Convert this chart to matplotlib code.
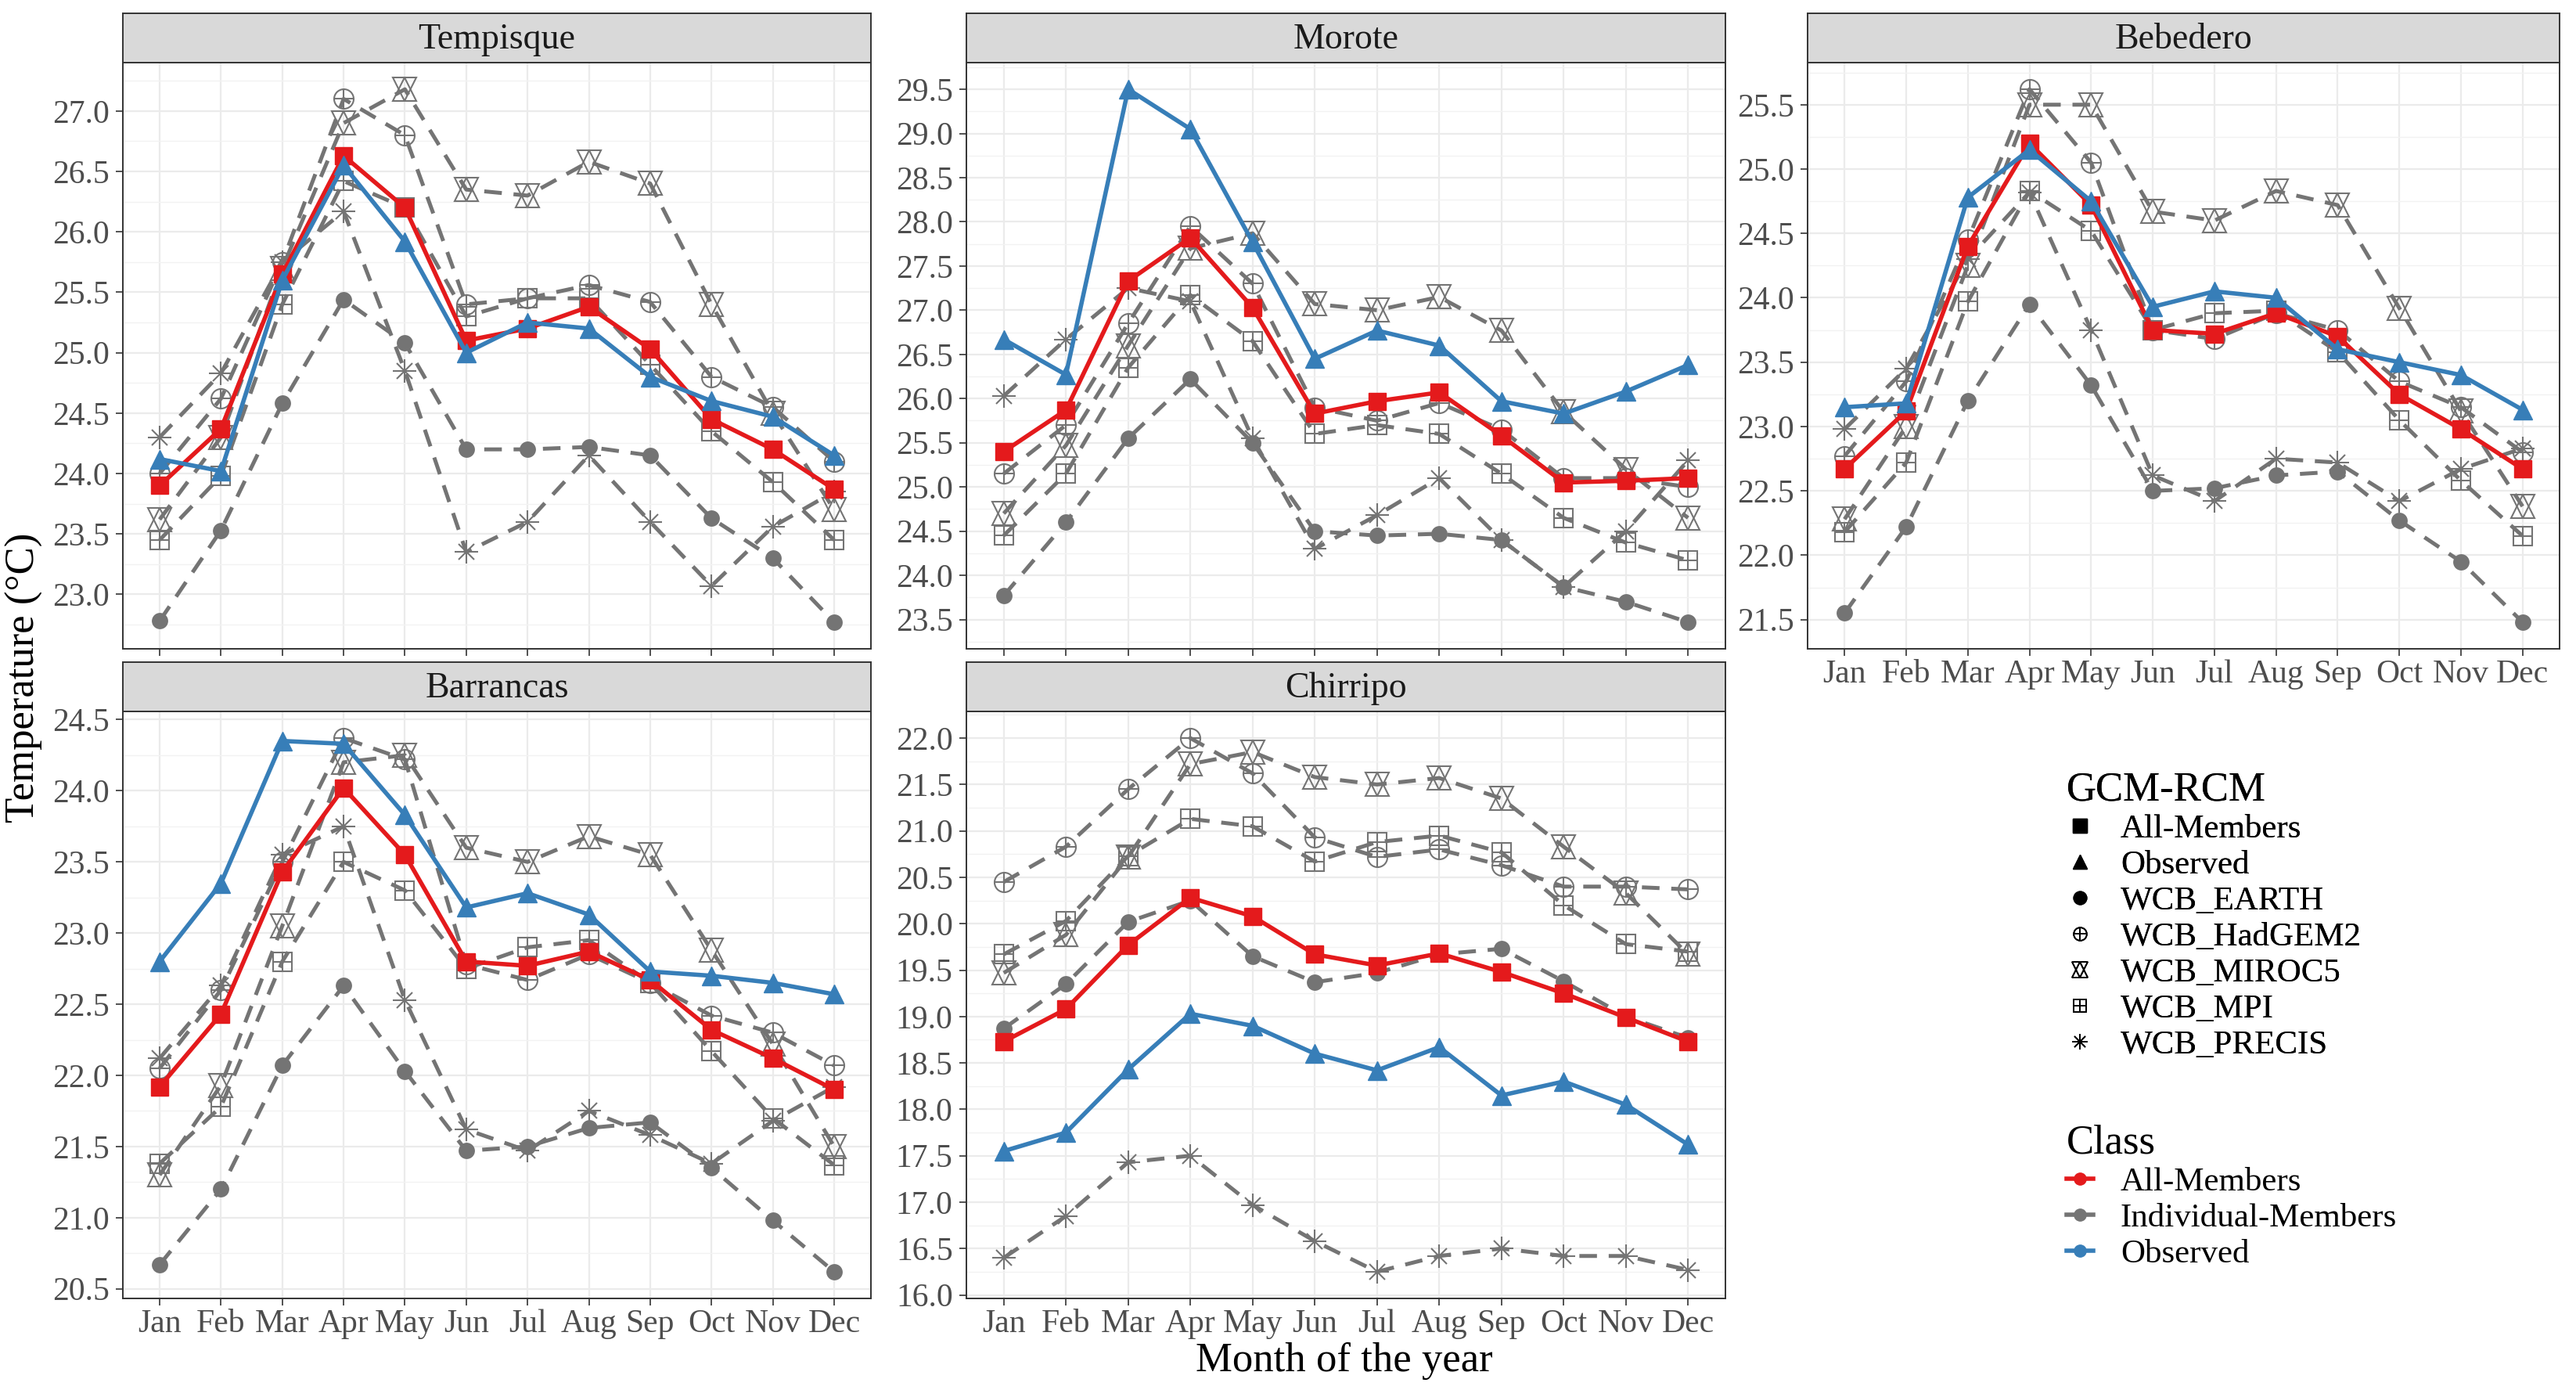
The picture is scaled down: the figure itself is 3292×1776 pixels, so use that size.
import numpy as np
import matplotlib
matplotlib.use("Agg")
import matplotlib.pyplot as plt
from matplotlib.ticker import MultipleLocator, FormatStrFormatter
from matplotlib.lines import Line2D

plt.rcParams['font.family'] = ['Liberation Serif', 'DejaVu Serif']

months = ["Jan", "Feb", "Mar", "Apr", "May", "Jun", "Jul", "Aug", "Sep", "Oct", "Nov", "Dec"]
stations = ["Tempisque", "Morote", "Bebedero", "Barrancas", "Chirripo"]
members = ["WCB_EARTH", "WCB_HadGEM2", "WCB_MIROC5", "WCB_MPI", "WCB_PRECIS"]

# Tempisque
tem_all = [23.90, 24.37, 25.65, 26.63, 26.20, 25.10, 25.20, 25.38, 25.03, 24.45, 24.20, 23.87]
tem_obs = [24.12, 24.02, 25.60, 26.55, 25.92, 25.00, 25.25, 25.20, 24.80, 24.60, 24.47, 24.15]
tem_earth = [22.78, 23.53, 24.58, 25.44, 25.08, 24.20, 24.20, 24.22, 24.15, 23.63, 23.30, 22.77]
tem_hadgem2 = [24.00, 24.62, 25.75, 27.10, 26.80, 25.40, 25.45, 25.56, 25.42, 24.80, 24.55, 24.10]
tem_miroc5 = [23.62, 24.30, 25.70, 26.90, 27.18, 26.35, 26.30, 26.58, 26.40, 25.40, 24.50, 23.70]
tem_mpi = [23.45, 23.98, 25.40, 26.42, 26.20, 25.30, 25.45, 25.45, 24.90, 24.35, 23.93, 23.45]
tem_precis = [24.30, 24.83, 25.75, 26.17, 24.85, 23.35, 23.60, 24.15, 23.60, 23.07, 23.56, 23.85]

# Morote
mor_all = [25.40, 25.87, 27.33, 27.82, 27.03, 25.83, 25.97, 26.07, 25.58, 25.05, 25.07, 25.10]
mor_obs = [26.67, 26.27, 29.50, 29.05, 27.77, 26.45, 26.77, 26.60, 25.97, 25.83, 26.08, 26.38]
mor_earth = [23.77, 24.60, 25.55, 26.22, 25.50, 24.50, 24.45, 24.47, 24.40, 23.87, 23.70, 23.47]
mor_hadgem2 = [25.15, 25.70, 26.85, 27.95, 27.30, 25.90, 25.75, 25.95, 25.65, 25.10, 25.10, 25.00]
mor_miroc5 = [24.70, 25.47, 26.60, 27.70, 27.87, 27.07, 27.00, 27.15, 26.77, 25.85, 25.20, 24.65]
mor_mpi = [24.45, 25.15, 26.35, 27.17, 26.65, 25.60, 25.70, 25.60, 25.15, 24.65, 24.37, 24.17]
mor_precis = [26.03, 26.67, 27.25, 27.10, 25.55, 24.30, 24.68, 25.10, 24.40, 23.87, 24.50, 25.30]

# Bebedero
beb_all = [22.67, 23.12, 24.40, 25.20, 24.72, 23.75, 23.72, 23.88, 23.70, 23.25, 22.98, 22.67]
beb_obs = [23.15, 23.18, 24.78, 25.15, 24.75, 23.93, 24.05, 24.00, 23.60, 23.50, 23.40, 23.13]
beb_earth = [21.55, 22.22, 23.20, 23.95, 23.32, 22.50, 22.52, 22.62, 22.65, 22.27, 21.95, 21.48]
beb_hadgem2 = [22.77, 23.35, 24.45, 25.62, 25.05, 23.75, 23.68, 23.88, 23.75, 23.35, 23.15, 22.80]
beb_miroc5 = [22.28, 23.00, 24.25, 25.50, 25.50, 24.67, 24.60, 24.83, 24.72, 23.92, 23.12, 22.38]
beb_mpi = [22.18, 22.72, 23.97, 24.83, 24.52, 23.75, 23.88, 23.90, 23.58, 23.05, 22.58, 22.15]
beb_precis = [22.98, 23.45, 24.30, 24.82, 23.75, 22.62, 22.42, 22.75, 22.72, 22.42, 22.67, 22.83]

# Barrancas
bar_all = [21.92, 22.43, 23.43, 24.02, 23.55, 22.80, 22.77, 22.87, 22.67, 22.32, 22.12, 21.90]
bar_obs = [22.80, 23.35, 24.35, 24.33, 23.83, 23.18, 23.28, 23.13, 22.73, 22.70, 22.65, 22.57]
bar_earth = [20.67, 21.20, 22.07, 22.63, 22.03, 21.47, 21.50, 21.63, 21.67, 21.35, 20.98, 20.62]
bar_hadgem2 = [22.05, 22.60, 23.50, 24.37, 24.22, 22.78, 22.67, 22.85, 22.65, 22.42, 22.30, 22.07]
bar_miroc5 = [21.30, 21.93, 23.05, 24.20, 24.25, 23.60, 23.50, 23.68, 23.55, 22.88, 22.22, 21.50]
bar_mpi = [21.38, 21.78, 22.80, 23.50, 23.30, 22.75, 22.90, 22.95, 22.65, 22.17, 21.70, 21.37]
bar_precis = [22.12, 22.63, 23.55, 23.75, 22.53, 21.62, 21.47, 21.75, 21.58, 21.38, 21.68, 21.92]

# Chirripo
chi_all = [18.73, 19.08, 19.77, 20.28, 20.08, 19.67, 19.55, 19.68, 19.48, 19.25, 18.99, 18.73]
chi_obs = [17.55, 17.75, 18.43, 19.03, 18.90, 18.60, 18.42, 18.67, 18.15, 18.30, 18.05, 17.62]
chi_earth = [18.87, 19.35, 20.02, 20.25, 19.65, 19.37, 19.47, 19.67, 19.73, 19.38, 19.00, 18.77]
chi_hadgem2 = [20.45, 20.83, 21.45, 22.00, 21.62, 20.93, 20.72, 20.80, 20.63, 20.40, 20.40, 20.37]
chi_miroc5 = [19.47, 19.88, 20.72, 21.72, 21.85, 21.58, 21.50, 21.57, 21.35, 20.83, 20.33, 19.67]
chi_mpi = [19.67, 20.03, 20.73, 21.13, 21.05, 20.67, 20.88, 20.95, 20.77, 20.20, 19.78, 19.70]
chi_precis = [16.40, 16.85, 17.43, 17.50, 16.97, 16.58, 16.25, 16.42, 16.50, 16.42, 16.42, 16.27]

data = {
    "Tempisque": (tem_all, tem_obs, [tem_earth, tem_hadgem2, tem_miroc5, tem_mpi, tem_precis]),
    "Morote": (mor_all, mor_obs, [mor_earth, mor_hadgem2, mor_miroc5, mor_mpi, mor_precis]),
    "Bebedero": (beb_all, beb_obs, [beb_earth, beb_hadgem2, beb_miroc5, beb_mpi, beb_precis]),
    "Barrancas": (bar_all, bar_obs, [bar_earth, bar_hadgem2, bar_miroc5, bar_mpi, bar_precis]),
    "Chirripo": (chi_all, chi_obs, [chi_earth, chi_hadgem2, chi_miroc5, chi_mpi, chi_precis]),
}

RED = "#E41A1C"
BLUE = "#377EB8"
GRAY = "#747474"

W, H = 3292, 1776
# panel boxes in pixels: left, right, top, bottom
boxes = {
    "Tempisque": (157, 1113, 80, 829),
    "Morote": (1235, 2205, 80, 829),
    "Bebedero": (2310, 3271, 80, 829),
    "Barrancas": (157, 1113, 909, 1659),
    "Chirripo": (1235, 2205, 909, 1659),
}
strip_h = 63
show_x = {"Bebedero", "Barrancas", "Chirripo"}

# composite marker layers (ggplot shapes 16, 10, 11, 12, 8)
marker_layers = {
    "WCB_EARTH": [dict(marker="o", ms=15, mfc="C", mew=0)],
    "WCB_HadGEM2": [dict(marker="o", ms=18, mfc="none", mew=1.5), dict(marker="+", ms=18, mfc="none", mew=1.5)],
    "WCB_MIROC5": [dict(marker="^", ms=21, mfc="none", mew=1.5), dict(marker="v", ms=21, mfc="none", mew=1.5)],
    "WCB_MPI": [dict(marker="s", ms=17, mfc="none", mew=1.5), dict(marker="+", ms=17, mfc="none", mew=1.5)],
    "WCB_PRECIS": [dict(marker="+", ms=21, mfc="none", mew=1.5), dict(marker="x", ms=15, mfc="none", mew=1.5)],
}

fig = plt.figure(figsize=(W / 100, H / 100), dpi=100)
x = np.arange(1, 13)

for st in stations:
    l, r, t, b = boxes[st]
    ax = fig.add_axes([l / W, 1 - b / H, (r - l) / W, (b - t) / H])
    all_m, obs, indiv = data[st]

    for name, vals in zip(members, indiv):
        ax.plot(x, vals, color=GRAY, lw=3.6, ls=(0, (4.5, 3)), zorder=3)
        for lay in marker_layers[name]:
            kw = dict(lay)
            if kw.get("mfc") == "C":
                kw["mfc"] = GRAY
            ax.plot(x, vals, ls="none", color=GRAY, zorder=4, **kw)

    ax.plot(x, all_m, color=RED, lw=4, marker="s", ms=16, zorder=5)
    ax.plot(x, obs, color=BLUE, lw=4, marker="^", ms=17, zorder=5)

    allv = np.concatenate([all_m, obs] + [np.array(v) for v in indiv])
    lo, hi = allv.min(), allv.max()
    pad = 0.05 * (hi - lo)
    ax.set_ylim(lo - pad, hi + pad)
    ax.set_xlim(0.4, 12.6)

    ax.yaxis.set_major_locator(MultipleLocator(0.5))
    ax.yaxis.set_minor_locator(MultipleLocator(0.25))
    ax.yaxis.set_major_formatter(FormatStrFormatter("%.1f"))
    ax.set_xticks(x)
    ax.grid(which="major", color="#EBEBEB", lw=1.6, zorder=0)
    ax.grid(which="minor", axis="y", color="#F2F2F2", lw=1.0, zorder=0)
    ax.set_axisbelow(True)
    for sp in ax.spines.values():
        sp.set_color("#333333")
        sp.set_linewidth(1.4)
    ax.tick_params(axis="both", which="major", labelsize=30, labelcolor="#4D4D4D",
                   color="#333333", length=6.5, width=1.2)
    ax.tick_params(axis="y", which="major", pad=6)
    ax.tick_params(axis="x", which="major", pad=3)
    ax.tick_params(axis="y", which="minor", length=0)
    if st in show_x:
        ax.set_xticklabels(months)
    else:
        ax.set_xticklabels([])

    # facet strip
    sax = fig.add_axes([l / W, 1 - t / H, (r - l) / W, strip_h / H])
    sax.set_facecolor("#D9D9D9")
    sax.set_xticks([])
    sax.set_yticks([])
    for sp in sax.spines.values():
        sp.set_color("#333333")
        sp.set_linewidth(1.4)
    sax.text(0.5, 0.47, st, ha="center", va="center", fontsize=33, color="#1A1A1A",
             transform=sax.transAxes)

fig.text(31 / W, 1 - 866 / H, "Temperature (°C)", rotation=90, ha="center", va="center",
         fontsize=38)
fig.text(1718 / W, 1 - 1739 / H, "Month of the year", ha="center", va="center", fontsize=38)

# legends
shape_handles = [
    Line2D([], [], ls="none", marker="s", ms=13, color="black"),
    Line2D([], [], ls="none", marker="^", ms=13, color="black"),
    Line2D([], [], ls="none", marker="o", ms=12, color="black"),
    (Line2D([], [], ls="none", marker="o", ms=12, mfc="none", mec="black", mew=1.3),
     Line2D([], [], ls="none", marker="+", ms=12, color="black", mew=1.3)),
    (Line2D([], [], ls="none", marker="^", ms=14, mfc="none", mec="black", mew=1.3),
     Line2D([], [], ls="none", marker="v", ms=14, mfc="none", mec="black", mew=1.3)),
    (Line2D([], [], ls="none", marker="s", ms=12, mfc="none", mec="black", mew=1.3),
     Line2D([], [], ls="none", marker="+", ms=12, color="black", mew=1.3)),
    (Line2D([], [], ls="none", marker="+", ms=14, color="black", mew=1.3),
     Line2D([], [], ls="none", marker="x", ms=10, color="black", mew=1.3)),
]
shape_labels = ["All-Members", "Observed"] + members
leg_kw = dict(loc="upper left", frameon=False, fontsize=31, title_fontsize=38,
              handlelength=0.8, handletextpad=0.8, labelspacing=0.16, borderpad=0.0,
              borderaxespad=0.0, alignment="left")
leg1 = fig.legend(shape_handles, shape_labels, title="GCM-RCM",
                  bbox_to_anchor=(2641 / W, 1 - 985 / H), **leg_kw)

class_handles = [
    Line2D([], [], color=RED, lw=4, marker="o", ms=11),
    Line2D([], [], color=GRAY, lw=4, marker="o", ms=11),
    Line2D([], [], color=BLUE, lw=4, marker="o", ms=11),
]
class_labels = ["All-Members", "Individual-Members", "Observed"]
leg2 = fig.legend(class_handles, class_labels, title="Class",
                  bbox_to_anchor=(2641 / W, 1 - 1436 / H), **leg_kw)
fig.add_artist(leg1)

fig.savefig("out.png", dpi=100)
